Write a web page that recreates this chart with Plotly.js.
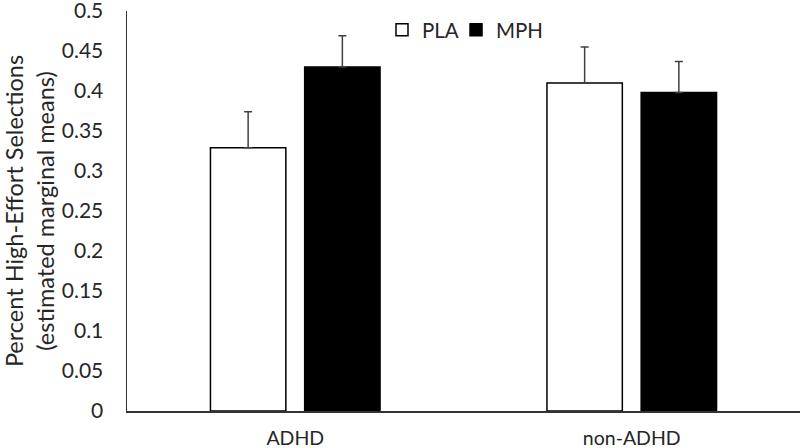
<!DOCTYPE html>
<html>
<head>
<meta charset="utf-8">
<script src="https://cdn.plot.ly/plotly-3.0.1.min.js"></script>
<style>html,body{margin:0;padding:0;background:#fff;}#chart{width:800px;height:448px;}</style>
</head>
<body>
<div id="chart"></div>
<script>
var groups = ["ADHD", "non-ADHD"];
var seriesNames = ["PLA", "MPH"];
var plaValues = [0.329, 0.410];
var mphValues = [0.430, 0.398];
var plaErrors = [0.045, 0.045];
var mphErrors = [0.039, 0.039];
var yTickValues = [0, 0.05, 0.1, 0.15, 0.2, 0.25, 0.3, 0.35, 0.4, 0.45, 0.5];

var FONT = "Lato, 'Open Sans', sans-serif";
var TEXT = "#262626";

var traces = [
  {
    type: "bar", name: seriesNames[0], x: groups, y: plaValues, legend: "legend",
    marker: {color: "#ffffff", line: {color: "#000000", width: 1.5}},
    error_y: {type: "data", array: plaErrors, arrayminus: [0, 0], symmetric: false,
              color: "#404040", thickness: 1.5, width: 4}
  },
  {
    type: "bar", name: seriesNames[1], x: groups, y: mphValues, legend: "legend2",
    marker: {color: "#000000", line: {color: "#000000", width: 1.5}},
    error_y: {type: "data", array: mphErrors, arrayminus: [0, 0], symmetric: false,
              color: "#404040", thickness: 1.5, width: 4}
  }
];

function legendAt(xPos) {
  return {orientation: "h", x: xPos, xanchor: "left", y: 0.9525, yanchor: "middle",
          font: {family: FONT, size: 20.5, color: TEXT}, bgcolor: "rgba(0,0,0,0)",
          itemwidth: 30};
}

var layout = {
  width: 800, height: 448,
  margin: {l: 127, r: 0, t: 11, b: 37},
  paper_bgcolor: "#ffffff", plot_bgcolor: "#ffffff",
  font: {family: FONT, size: 20, color: TEXT},
  barmode: "group", bargap: 0.44, bargroupgap: 0.2,
  showlegend: true,
  legend: legendAt(0.3789),
  legend2: legendAt(0.4889),
  xaxis: {
    showline: true, linecolor: "#333333", linewidth: 1.5,
    ticks: "outside", ticklen: 9, tickcolor: "rgba(0,0,0,0)",
    tickfont: {family: FONT, size: 19.5, color: TEXT},
    showgrid: false, zeroline: false, fixedrange: true
  },
  yaxis: {
    range: [0, 0.5], tickvals: yTickValues,
    ticktext: yTickValues.map(function(v){ return String(v); }),
    ticklabeloverflow: "allow",
    showline: true, linecolor: "#333333", linewidth: 1.5,
    ticks: "outside", ticklen: 18, tickcolor: "rgba(0,0,0,0)",
    tickfont: {family: FONT, size: 21, color: TEXT},
    showgrid: false, zeroline: false, fixedrange: true,
    title: {text: "Percent High-Effort Selections<br>(estimated marginal means)",
            font: {family: FONT, size: 23.5, color: TEXT}, standoff: 6}
  }
};

Plotly.newPlot("chart", traces, layout, {displayModeBar: false, staticPlot: true});
</script>
</body>
</html>
